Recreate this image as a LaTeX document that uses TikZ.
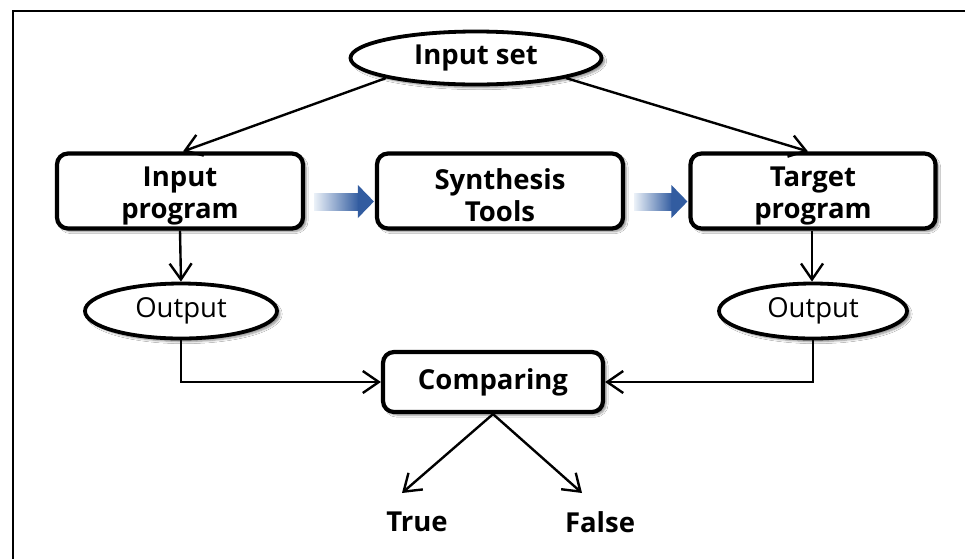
\documentclass[tikz,border=0pt]{standalone}
\usepackage{fontspec}
\setmainfont{Open Sans}
\usetikzlibrary{arrows.meta,shapes.geometric,shadows.blur,calc}

\definecolor{flowblue}{RGB}{50,92,160}
\definecolor{flowlight}{RGB}{235,241,248}

\newcommand{\toppad}{\rule{0pt}{29pt}}

\tikzset{
  soft/.style={blur shadow={shadow xshift=3pt,shadow yshift=-3pt,shadow blur steps=6,shadow opacity=45}},
  procbox/.style={draw,line width=4.2pt,rounded corners=11pt,fill=white,soft,
    minimum width=246pt,minimum height=75pt,inner sep=0pt,align=center,
    font=\bfseries\fontsize{27.5}{32}\selectfont},
  oval/.style={ellipse,draw,line width=3.8pt,fill=white,soft,inner sep=0pt},
  conn/.style={line width=2.4pt,-{Straight Barb[length=16pt,width=22pt,line width=2.4pt]}},
  plainlbl/.style={font=\bfseries\fontsize{27.5}{32}\selectfont,inner sep=0pt}
}

\begin{document}
\begin{tikzpicture}[x=1pt,y=-1pt]
  \useasboundingbox (0,0) rectangle (965,558);
  \fill[white] (0,0) rectangle (965,558);

  % outer frame (top and left edges)
  \draw[line width=2.4pt] (13,560) -- (13,11) -- (967,11);

  % nodes
  \node[oval,minimum width=251pt,minimum height=53pt,
        font=\bfseries\fontsize{27.5}{32}\selectfont] (inset) at (476,58) {Input set};

  \node[procbox] (inprog) at (180,191) {\toppad Input\\program};
  \node[procbox] (synth)  at (500,191) {\toppad Synthesis\\Tools};
  \node[procbox,minimum width=245pt] (tprog) at (813,191) {\toppad Target\\program};

  \node[oval,minimum width=192pt,minimum height=55pt,
        font=\fontsize{27.5}{32}\selectfont] (outL) at (181,311) {Output};
  \node[oval,minimum width=188pt,minimum height=55pt,
        font=\fontsize{27.5}{32}\selectfont] (outR) at (813,311) {Output};

  \node[procbox,minimum width=220pt,minimum height=60pt] (cmp) at (493,382) {Comparing};

  \node[plainlbl] (truen)  at (417,522) {True};
  \node[plainlbl] (falsen) at (600,522) {False};

  \coordinate (tipT) at (402,493);
  \coordinate (tipF) at (582,493);

  % connectors
  \draw[conn] (inset.south west) -- ([xshift=3pt]inprog.north);
  \draw[conn] (inset.south east) -- ([xshift=-5pt]tprog.north);
  \draw[conn] (inprog.south) -- (outL.north);
  \draw[conn] ([xshift=-1pt]tprog.south) -- ([xshift=-1pt]outR.north);
  \draw[conn] (outL.south) |- (cmp.west);
  \draw[conn] (outR.south) |- (cmp.east);
  \draw[conn] (cmp.south) -- (tipT);
  \draw[conn] (cmp.south) -- (tipF);

  % shaded block arrows between the program boxes
  \foreach \a/\b in {inprog/synth,synth/tprog}{
    \shade[left color=flowlight,right color=flowblue]
      ($(\a.east)+(9,2)$) rectangle ($(\b.west)+(-16,19)$);
    \fill[flowblue]
      ($(\b.west)+(-17,-6)$) -- ($(\b.west)+(-1,10.5)$) -- ($(\b.west)+(-17,27)$) -- cycle;
  }
\end{tikzpicture}
\end{document}
